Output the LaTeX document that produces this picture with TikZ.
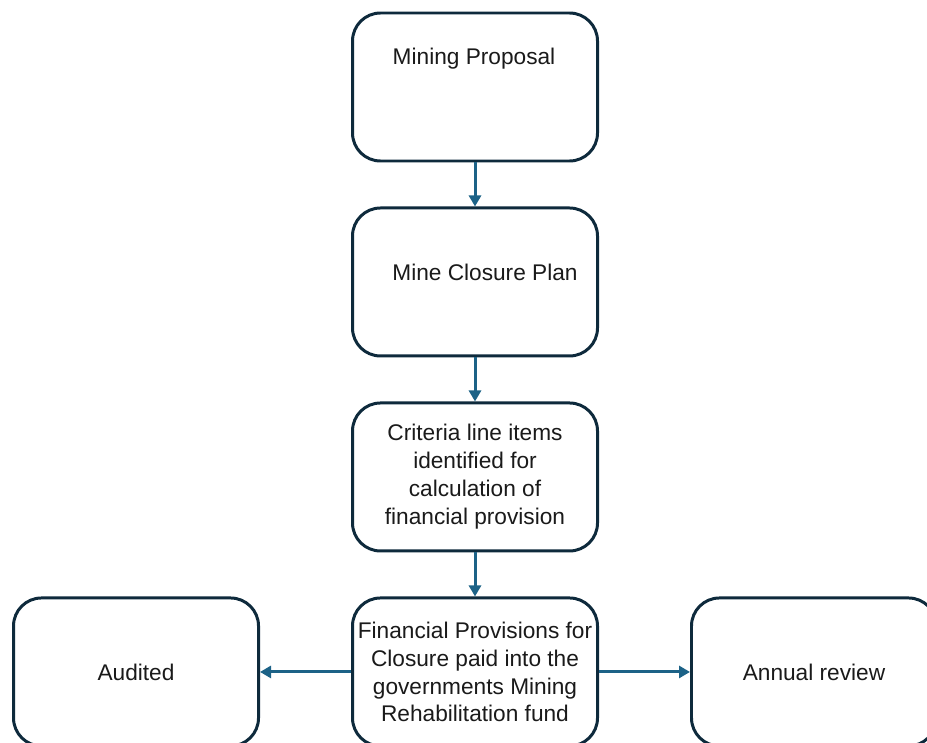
\documentclass[tikz,border=0pt]{standalone}
\usepackage{fontspec}
\setmainfont{Liberation Sans}
\usepackage{xcolor}
\usepackage{tikz}
\usetikzlibrary{arrows.meta,positioning,calc}
\definecolor{boxline}{RGB}{14,42,60}
\definecolor{flowline}{RGB}{28,98,135}
\definecolor{boxtext}{RGB}{26,26,26}

\begin{document}
\begin{tikzpicture}[>={Triangle[length=2.2mm,width=2.4mm]},node distance=0.88cm and 1.82cm]
  \tikzstyle{stage}=[draw=boxline,line width=1.7pt,rounded corners=0.56cm,align=center,minimum width=4.9cm,minimum height=2.9cm+0.06cm,inner sep=1pt,fill=white,text=boxtext,font=\fontsize{12.9}{15.9}\selectfont]
  \tikzstyle{stagetext}=[inner sep=0pt,text=boxtext,font=\fontsize{12.9}{15.9}\selectfont]
  \tikzstyle{flow}=[->,draw=flowline,fill=flowline,line width=1.7pt]
  \useasboundingbox (0,0) rectangle (18.54,-14.84);
  \clip (0,0) rectangle (18.54,-14.84);
  \node[stage] (proposal) at (9.5,-1.74) {};
  \node[stage,below=of proposal] (plan) {};
  \node[stage,below=of plan] (criteria) {Criteria line items\\identified for\\calculation of\\financial provision};
  \node[stage,below=of criteria] (provision) {Financial Provisions for\\Closure paid into the\\governments Mining\\Rehabilitation fund};
  \node[stage,left=of provision] (audited) {Audited};
  \node[stage,right=of provision] (review) {Annual review};
  % texts that sit off centre
  \node[stagetext] (proposaltext) at ($(proposal.center)+(-0.02,0.56)$) {Mining Proposal};
  \node[stagetext] (plantext) at ($(plan.center)+(0.2,0.2)$) {Mine Closure Plan};
  \draw[flow] (proposal) -- (plan);
  \draw[flow] (plan) -- (criteria);
  \draw[flow] (criteria) -- (provision);
  \draw[flow] (provision) -- (audited);
  \draw[flow] (provision) -- (review);
\end{tikzpicture}
\end{document}
